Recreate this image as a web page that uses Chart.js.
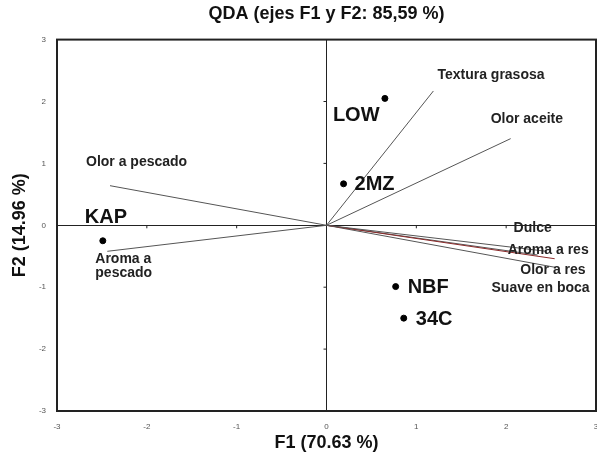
<!DOCTYPE html>
<html>
<head>
<meta charset="utf-8">
<script src="https://cdn.jsdelivr.net/npm/chart.js@4"></script>
<style>
  html, body { margin:0; padding:0; background:#fff; }
  #wrap { width:597px; height:456px; }
</style>
</head>
<body>
<div id="wrap"><canvas id="chart" width="597" height="456"></canvas></div>
<script>
/* ---------- Data ---------- */
const pointNames = ['LOW', '2MZ', 'KAP', 'NBF', '34C'];
const pointF1 = [0.65, 0.19, -2.49, 0.77, 0.86];
const pointF2 = [2.05, 0.67, -0.25, -0.99, -1.50];

const vectorNames = ['Textura grasosa', 'Olor aceite', 'Olor a pescado', 'Aroma a\npescado',
  'Dulce', 'Aroma a res', 'Olor a res', 'Suave en boca'];
const vectorF1 = [1.19, 2.05, -2.41, -2.44, 2.45, 2.54, 2.35, 2.55];
const vectorF2 = [2.17, 1.40, 0.64, -0.42, -0.42, -0.54, -0.48, -0.68];

const axisTicks = [-3, -2, -1, 0, 1, 2, 3];

/* ---------- Styles ---------- */
const FONT = "'Liberation Sans', Arial, sans-serif";
const vectorColor = i => i === 5 ? '#8b2a2a' : '#555';
// label placement, pixels from the mark
const pointLabel = [
  { dx:-52, dy:17, align:'left' },
  { dx:11,  dy:1,  align:'left' },
  { dx:-18, dy:-23, align:'left' },
  { dx:12,  dy:1,  align:'left' },
  { dx:12,  dy:1,  align:'left' },
];
const vectorLabel = [
  { dx:4,   dy:-16, align:'left' },
  { dx:-20, dy:-19, align:'left' },
  { dx:-24, dy:-24, align:'left' },
  { dx:-12, dy:8,   align:'left' },
  { dx:-33, dy:-23, align:'left' },
  { dx:34,  dy:-9,  align:'right' },
  { dx:48,  dy:15,  align:'right' },
  { dx:34,  dy:21,  align:'right' },
];

/* ---------- Datasets ---------- */
const datasets = vectorNames.map((n, i) => ({
  label: n,
  data: [{ x:0, y:0 }, { x:vectorF1[i], y:vectorF2[i] }],
  showLine: true,
  borderColor: vectorColor(i),
  borderWidth: 1,
  pointRadius: 0,
}));
datasets.push({
  label: 'Productos',
  data: pointNames.map((n, i) => ({ x:pointF1[i], y:pointF2[i] })),
  backgroundColor: '#000',
  borderColor: '#000',
  pointRadius: 3,
});

/* ---------- Plugin: frame, small ticks, labels ---------- */
const biplotDecor = {
  id: 'biplotDecor',
  beforeDatasetsDraw(chart){
    const { ctx, scales:{ x, y } } = chart;
    ctx.save();
    ctx.strokeStyle = '#222';
    ctx.lineWidth = 1;
    const x0 = x.getPixelForValue(0), y0 = y.getPixelForValue(0);
    axisTicks.forEach(v => {
      if (v === -3 || v === 3 || v === 0) return;
      const px = x.getPixelForValue(v), py = y.getPixelForValue(v);
      ctx.beginPath(); ctx.moveTo(px, y0); ctx.lineTo(px, y0 + 3); ctx.stroke();
      ctx.beginPath(); ctx.moveTo(x0, py); ctx.lineTo(x0 - 3, py); ctx.stroke();
    });
    ctx.restore();
  },
  afterDatasetsDraw(chart){
    const { ctx, chartArea:a, scales:{ x, y } } = chart;
    ctx.save();
    ctx.strokeStyle = '#222';
    ctx.lineWidth = 2;
    ctx.strokeRect(a.left, a.top, a.right - a.left, a.bottom - a.top);

    ctx.textBaseline = 'middle';
    ctx.fillStyle = '#222';
    ctx.font = 'bold 14px ' + FONT;
    vectorNames.forEach((n, i) => {
      const s = vectorLabel[i];
      ctx.textAlign = s.align;
      const px = x.getPixelForValue(vectorF1[i]) + s.dx;
      const py = y.getPixelForValue(vectorF2[i]) + s.dy;
      n.split('\n').forEach((line, k) => ctx.fillText(line, px, py + k * 14));
    });

    ctx.fillStyle = '#111';
    ctx.font = 'bold 20px ' + FONT;
    pointNames.forEach((n, i) => {
      const s = pointLabel[i];
      ctx.textAlign = s.align;
      ctx.fillText(n, x.getPixelForValue(pointF1[i]) + s.dx, y.getPixelForValue(pointF2[i]) + s.dy);
    });
    ctx.restore();
  }
};

const tickOpts = {
  min: -3, max: 3,
  afterBuildTicks: s => { s.ticks = axisTicks.map(v => ({ value:v })); },
};

new Chart(document.getElementById('chart'), {
  type: 'scatter',
  data: { datasets },
  plugins: [biplotDecor],
  options: {
    responsive: false,
    animation: false,
    layout: { autoPadding:false, padding:{ left:0, right:1, top:0, bottom:0 } },
    plugins: {
      legend: { display:false },
      tooltip: { enabled:false },
      title: {
        display: true,
        fullSize: false,
        text: 'QDA (ejes F1 y F2: 85,59 %)',
        color: '#111',
        font: { family:FONT, size:18, weight:'bold' },
        padding: { top:3, bottom:15 },
      },
    },
    scales: {
      x: {
        ...tickOpts,
        afterFit: s => { s.height = 45; s.paddingLeft = 0; s.paddingRight = 0; },
        grid: {
          drawTicks: false,
          color: c => c.tick && c.tick.value === 0 ? '#222' : 'transparent',
          lineWidth: 1,
        },
        border: { display:false },
        ticks: { stepSize:1, padding:11, color:'#555', font:{ family:FONT, size:8 } },
        title: {
          display: true, text: 'F1 (70.63 %)', color: '#111',
          font: { family:FONT, size:18, weight:'bold' },
          padding: { top:0, bottom:2 },
        },
      },
      y: {
        ...tickOpts,
        afterFit: s => { s.width = 57; s.paddingTop = 0; s.paddingBottom = 0; },
        grid: {
          drawTicks: false,
          color: c => c.tick && c.tick.value === 0 ? '#222' : 'transparent',
          lineWidth: 1,
        },
        border: { display:false },
        ticks: { stepSize:1, padding:11, color:'#555', font:{ family:FONT, size:8 } },
        title: {
          display: true, text: 'F2 (14.96 %)', color: '#111',
          font: { family:FONT, size:18, weight:'bold' },
          padding: { top:9, bottom:0 },
        },
      },
    },
  },
});
</script>
</body>
</html>
